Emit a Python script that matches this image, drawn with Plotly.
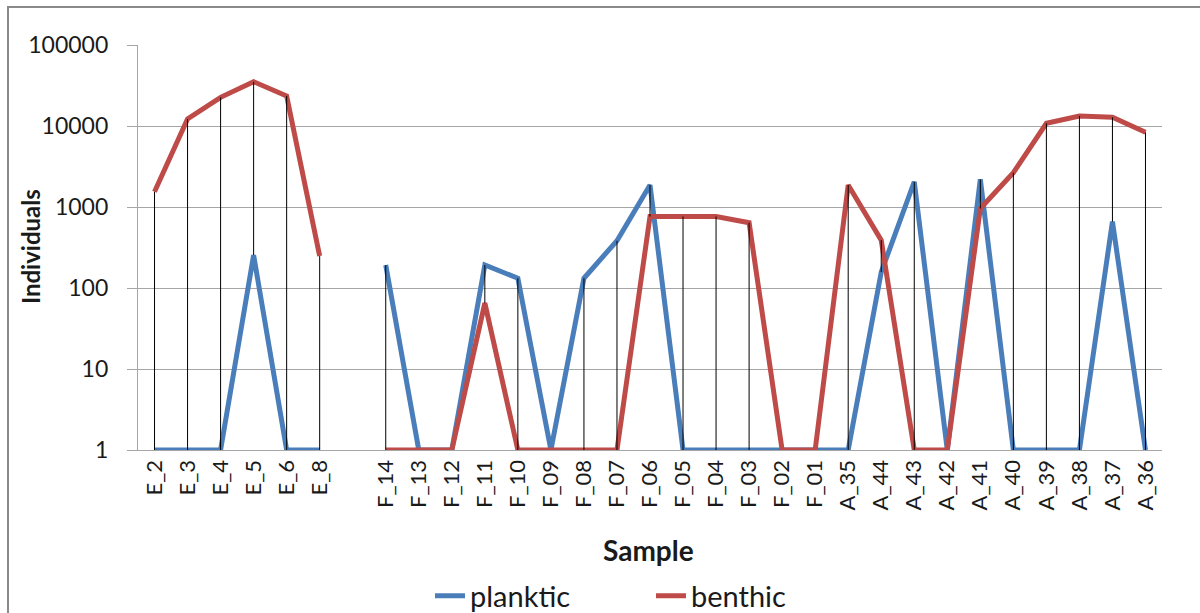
import plotly.graph_objects as go

categories = ["E_2", "E_3", "E_4", "E_5", "E_6", "E_8", " ",
              "F_14", "F_13", "F_12", "F_11", "F_10", "F_09", "F_08", "F_07",
              "F_06", "F_05", "F_04", "F_03", "F_02", "F_01",
              "A_35", "A_44", "A_43", "A_42", "A_41", "A_40", "A_39", "A_38", "A_37", "A_36"]

planktic = [1, 1, 1, 255, 1, 1, None,
            192, 1, 1, 192, 132, 1, 132, 384,
            1870, 1, 1, 1, 1, 1,
            1, 157, 2050, 1, 2190, 1, 1, 1, 660, 1]

benthic = [1545, 12200, 22600, 35200, 23500, 248, None,
           1, 1, 1, 65, 1, 1, 1, 1,
           763, 763, 763, 640, 1, 1,
           1870, 390, 1, 1, 960, 2650, 10800, 13300, 12800, 8350]

y_tickvals = [1, 10, 100, 1000, 10000, 100000]
y_ticktext = ["1", "10", "100", "1000", "10000", "100000"]

BLUE = "#4a7ebb"
RED = "#be4b48"
GRID = "#a6a6a6"
FONT = "Lato"

# high-low lines between the two series at each category
hl_x, hl_y = [], []
for c, p, b in zip(categories, planktic, benthic):
    if p is None or b is None:
        continue
    lo, hi = min(p, b), max(p, b)
    if hi > lo:
        hl_x += [c, c, None]
        hl_y += [lo, hi, None]

fig = go.Figure()
fig.add_trace(go.Scatter(x=categories, y=planktic, name="planktic", mode="lines",
                         line=dict(color=BLUE, width=5)))
fig.add_trace(go.Scatter(x=categories, y=benthic, name="benthic", mode="lines",
                         line=dict(color=RED, width=5)))
fig.add_trace(go.Scatter(x=hl_x, y=hl_y, mode="lines", showlegend=False,
                         line=dict(color="black", width=1), hoverinfo="skip"))

L, R, T, B = 138, 38, 45, 163
W, H = 1200, 613
pw, ph = W - L - R, H - T - B

def px_x(px):
    return (px - L) / pw

def px_y(py):
    return (H - B - py) / ph

fig.update_layout(
    width=W, height=H,
    margin=dict(l=L, r=R, t=T, b=B),
    paper_bgcolor="white", plot_bgcolor="white",
    font=dict(family=FONT, size=22, color="#1a1a1a"),
    showlegend=True,
    legend=dict(orientation="h", xref="container", yref="container",
                x=430 / W, xanchor="left", y=(H - 596) / H, yanchor="middle",
                font=dict(family=FONT, size=29, color="#1a1a1a"),
                entrywidth=176, entrywidthmode="pixels",
                bgcolor="rgba(0,0,0,0)"),
    xaxis=dict(type="category", categoryorder="array", categoryarray=categories,
               tickangle=-90, showgrid=False, showline=True, linecolor=GRID, linewidth=1.3,
               ticks="", tickfont=dict(family=FONT, size=22, color="#1a1a1a"),
               range=[-0.5, len(categories) - 0.5]),
    yaxis=dict(type="log", range=[0, 5], tickvals=y_tickvals, ticktext=y_ticktext,
               showgrid=True, gridcolor=GRID, gridwidth=1.3,
               showline=True, linecolor=GRID, linewidth=1.3,
               ticks="outside", ticklen=10, tickcolor=GRID, tickwidth=1.3,
               ticklabelstandoff=14,
               tickfont=dict(family=FONT, size=23, color="#1a1a1a"), zeroline=False),
    annotations=[
        dict(text="<b>Sample</b>", xref="paper", yref="paper", x=px_x(648), y=px_y(550),
             showarrow=False, font=dict(family=FONT, size=28, color="#1a1a1a"),
             xanchor="center", yanchor="middle"),
        dict(text="<b>Individuals</b>", xref="paper", yref="paper", x=px_x(30), y=px_y(247),
             showarrow=False, textangle=-90, font=dict(family=FONT, size=24, color="#1a1a1a"),
             xanchor="center", yanchor="middle"),
    ],
    shapes=[dict(type="rect", xref="paper", yref="paper",
                 x0=px_x(8), x1=px_x(1210), y0=px_y(625), y1=px_y(7),
                 line=dict(color="#8a8a8a", width=2), fillcolor="rgba(0,0,0,0)", layer="below")],
)

fig.write_html("out.html")
